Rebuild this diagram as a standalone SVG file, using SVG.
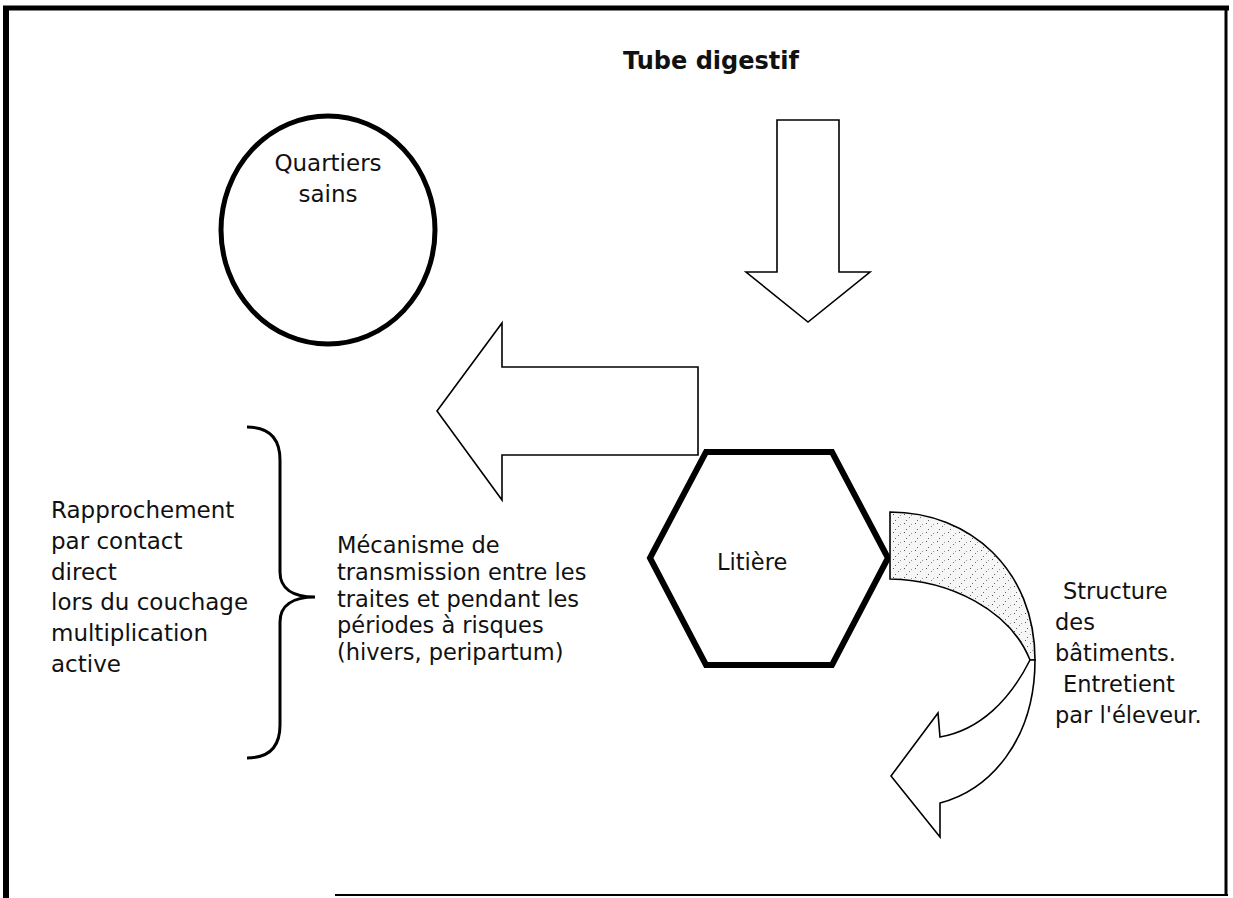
<svg xmlns="http://www.w3.org/2000/svg" width="1233" height="898" viewBox="0 0 1233 898">
  <style>
    .txt { font-family: "DejaVu Sans", "Liberation Sans", sans-serif; font-size: 22.5px; fill: #111; }
    .big { font-size: 23px; }
    .title { font-family: "DejaVu Sans", "Liberation Sans", sans-serif; font-size: 24px; font-weight: bold; fill: #111; }
    .shape { fill: #fff; stroke: #000; stroke-linejoin: miter; }
    .thin { stroke-width: 1.6; }
    .thick { stroke-width: 5; }
  </style>
  <defs>
    <!-- speckled texture for the back face of the curved arrow -->
    <pattern id="speckle" width="11" height="9" patternUnits="userSpaceOnUse">
      <rect width="11" height="9" fill="#f6f6f6"/>
      <rect x="2" y="1" width="1" height="1" fill="#555"/>
      <rect x="7" y="4" width="1" height="1" fill="#777"/>
      <rect x="4" y="7" width="1" height="1" fill="#666"/>
      <rect x="9" y="2" width="1" height="1" fill="#999"/>
    </pattern>
  </defs>

  <rect width="1233" height="898" fill="#fff"/>

  <!-- page frame -->
  <g id="frame" stroke="#000" fill="none">
    <line x1="3" y1="8" x2="1229" y2="8" stroke-width="5"/>
    <line x1="6" y1="6" x2="6" y2="898" stroke-width="6"/>
    <line x1="1226" y1="6" x2="1226" y2="896" stroke-width="3"/>
    <line x1="335" y1="895" x2="1228" y2="895" stroke-width="2"/>
  </g>

  <!-- title -->
  <g id="tube-digestif">
    <text class="title" x="623" y="69">Tube digestif</text>
  </g>

  <!-- healthy quarters -->
  <g id="quartiers-sains">
    <ellipse cx="328" cy="230" rx="107" ry="114" class="shape thick"/>
    <text class="txt big" x="328" y="171" text-anchor="middle">Quartiers</text>
    <text class="txt big" x="328" y="202" text-anchor="middle">sains</text>
  </g>

  <!-- litter -->
  <g id="litiere">
    <polygon points="650,558 706,452 832,452 888,558 832,665 706,665" class="shape" stroke-width="6"/>
    <text class="txt" x="717" y="570">Litière</text>
  </g>

  <!-- left-hand explanatory block with brace -->
  <g id="rapprochement">
    <text class="txt big">
      <tspan x="51" y="518">Rapprochement</tspan>
      <tspan x="51" y="549">par contact</tspan>
      <tspan x="51" y="580">direct</tspan>
      <tspan x="51" y="610">lors du couchage</tspan>
      <tspan x="51" y="641">multiplication</tspan>
      <tspan x="51" y="672">active</tspan>
    </text>
    <path d="M247,427 C268,427 280,437 280,460 L280,572 C280,588 292,597 315,597 C292,597 280,606 280,622 L280,725 C280,748 268,758 247,758" fill="none" stroke="#000" stroke-width="3"/>
  </g>

  <g id="mecanisme">
    <text class="txt">
      <tspan x="337" y="553">Mécanisme de</tspan>
      <tspan x="337" y="580">transmission entre les</tspan>
      <tspan x="337" y="607">traites et pendant les</tspan>
      <tspan x="337" y="633">périodes à risques</tspan>
      <tspan x="337" y="660">(hivers, peripartum)</tspan>
    </text>
  </g>

  <g id="structure">
    <text class="txt">
      <tspan x="1063" y="599">Structure</tspan>
      <tspan x="1055" y="630">des</tspan>
      <tspan x="1055" y="661">bâtiments.</tspan>
      <tspan x="1063" y="692">Entretient</tspan>
      <tspan x="1055" y="723">par l'éleveur.</tspan>
    </text>
  </g>

  <!-- block arrows -->
  <g id="connectors">
    <!-- from the digestive tract down to the litter -->
    <polygon class="shape thin" points="777,120 839,120 839,272 870,272 808,322 746,272 777,272"/>
    <!-- from the litter towards the healthy quarters -->
    <polygon class="shape thin" points="698,367 698,455 502,455 502,500 437,411 502,323 502,367"/>
    <!-- curved arrow leaving the litter: back face -->
    <path class="thin" fill="url(#speckle)" stroke="#000" d="M890,512 C970,512 1035,570 1035,660 L1030,660 C1010,610 950,580 890,579 Z"/>
    <!-- curved arrow: front face and head -->
    <path class="shape thin" d="M1030,660 C1010,700 980,730 940,737 L938,713 L891,776 L940,837 L940,803 C990,790 1035,740 1035,660 Z"/>
  </g>
</svg>
